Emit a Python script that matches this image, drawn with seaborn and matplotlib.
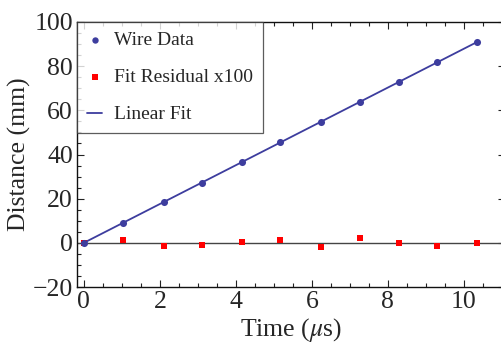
import numpy as np
import pandas as pd
import matplotlib
matplotlib.use("Agg")
import matplotlib.pyplot as plt
import seaborn as sns
from matplotlib.ticker import MultipleLocator

# data
time_us = [0.0, 1.04, 2.10, 3.11, 4.15, 5.17, 6.23, 7.26, 8.28, 9.30, 10.34]
distance_mm = [0.0, 9.1, 18.5, 27.3, 36.5, 45.6, 54.7, 63.8, 72.7, 81.8, 90.9]
residual_x100 = [0.0, 1.2, -1.4, -0.9, 0.5, 1.4, -1.8, 2.3, 0.0, -1.4, 0.0]

sns.set_style("ticks")
plt.rcParams['font.family'] = ['Liberation Serif', 'DejaVu Serif']
plt.rcParams['mathtext.fontset'] = 'stix'

blue = '#3d3d9e'
red = '#ff0000'

df = pd.DataFrame({'time': time_us, 'dist': distance_mm, 'resid': residual_x100})
slope, intercept = np.polyfit(df['time'], df['dist'], 1)
fit = pd.DataFrame({'time': [df['time'].min(), df['time'].max()]})
fit['dist'] = slope * fit['time'] + intercept

fig = plt.figure(figsize=(5.01, 3.47), dpi=100)
ax = fig.add_axes([77 / 501, 60 / 347, 428 / 501, 265 / 347])

ax.axhline(0, color='#444444', lw=1.0, zorder=1)
sns.lineplot(data=fit, x='time', y='dist', ax=ax, color=blue, lw=1.3,
             label='Linear Fit', zorder=2)
sns.scatterplot(data=df, x='time', y='resid', ax=ax, color=red, marker='s',
                s=22, linewidth=0, label='Fit Residual x100', zorder=3)
sns.scatterplot(data=df, x='time', y='dist', ax=ax, color=blue, marker='o',
                s=26, linewidth=0, label='Wire Data', zorder=4)

ax.set_xlim(-0.18, 11.08)
ax.set_ylim(-20, 100)
ax.xaxis.set_major_locator(MultipleLocator(2))
ax.xaxis.set_minor_locator(MultipleLocator(0.5))
ax.yaxis.set_major_locator(MultipleLocator(20))
ax.yaxis.set_minor_locator(MultipleLocator(5))
ax.tick_params(which='both', direction='in', top=True, right=True,
               labelsize=18.5, width=0.8, color='#222222', pad=3)
ax.tick_params(which='major', length=5)
ax.tick_params(which='minor', length=3)
for sp in ax.spines.values():
    sp.set_linewidth(1.0)
    sp.set_color('#111111')

ax.set_xlabel('Time ($\\mu$s)', fontsize=18.5, labelpad=2)
ax.set_ylabel('Distance (mm)', fontsize=18.5, labelpad=1)

handles, labels = ax.get_legend_handles_labels()
order = [labels.index(l) for l in ['Wire Data', 'Fit Residual x100', 'Linear Fit']]
leg = ax.legend([handles[i] for i in order], [labels[i] for i in order],
                loc='upper left', bbox_to_anchor=(0, 1), borderaxespad=0,
                fontsize=14, frameon=True, fancybox=False, handlelength=0.8,
                handletextpad=0.6, labelspacing=1.0, borderpad=0.5,
                handleheight=0.7, markerscale=0.9)
leg.get_frame().set_edgecolor('#333333')
leg.get_frame().set_linewidth(0.9)

fig.savefig('out.png', dpi=100)
